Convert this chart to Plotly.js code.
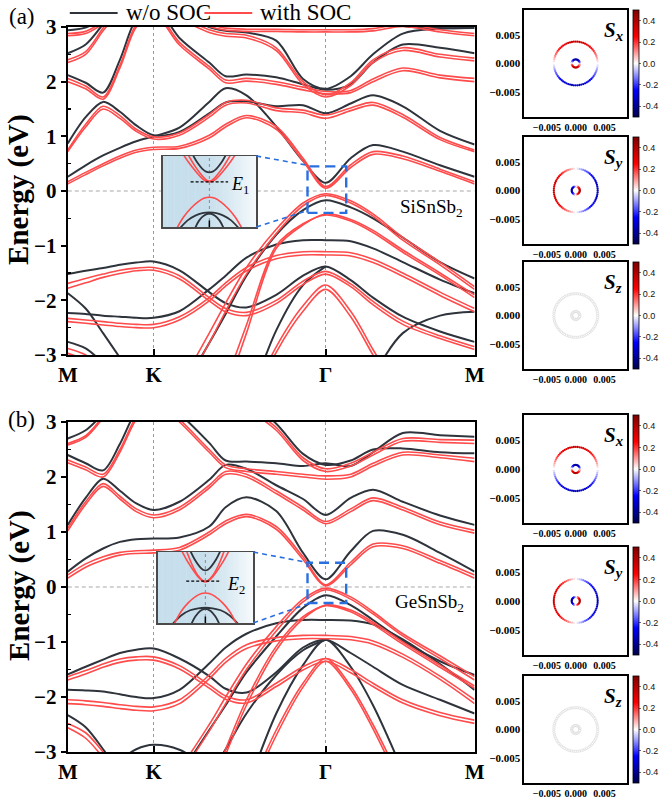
<!DOCTYPE html>
<html><head><meta charset="utf-8">
<script src="https://cdn.plot.ly/plotly-3.0.1.min.js"></script>
<style>html,body{margin:0;padding:0;background:#fff}#plot{width:659px;height:804px}</style>
</head><body><div id="plot"></div>
<script>
const n = null;
// ---------- k-path (M-K-Γ-M) ----------
const kPath = [0, 0.12, 0.237, 0.35, 0.46, 0.577, 0.75, 0.95, 1.06, 1.2, 1.4, 1.58, 1.732, 1.9, 2.05, 2.25, 2.5, 2.732];
const kTickVals = [0, 0.577, 1.732, 2.732];
const kTickText = ['M', 'K', 'Γ', 'M'];
const energyTicks = [-3, -2, -1, 0, 1, 2, 3];
const seriesNames = ['w/o SOC', 'with SOC'];

// ---------- (a) SiSnSb2, w/o SOC ----------
const aB1 = [0.26, 0.47, 0.65, 0.79, 0.91, 1.00, 1.16, 1.63, 1.88, 1.75, 1.18, 0.55, 0.15, 0.60, 0.84, 0.72, 0.47, 0.26];
const aB2 = [0.87, 1.35, 1.63, 1.45, 1.20, 1.02, 1.08, 1.42, 1.62, 1.64, 1.55, 1.57, 1.42, 1.60, 1.75, 1.55, 1.10, 0.85];
const aB3 = [2.12, 1.98, 1.80, 2.40, 3.15, 3.40, 2.80, 2.35, 2.10, 2.13, 2.08, 1.95, 1.85, 1.95, 2.35, 2.68, 2.62, 2.52];
const aB4 = [2.52, 2.68, 3.05, 3.40, n, n, 3.30, 3.00, 2.93, 2.90, 2.75, 2.05, 1.87, 2.10, 2.50, 2.88, 2.97, 2.98];
const aB5 = [2.94, 2.99, 3.15, n, n, n, n, n, n, n, n, n, n, n, 3.20, 3.02, 2.98, 2.98];
const aV1 = [n, n, n, n, n, -4.3, -3.7, -2.78, -2.25, -1.55, -0.80, -0.35, -0.17, -0.30, -0.50, -0.85, -1.30, -1.60];
const aV2 = [-2.23, -2.25, -2.28, -2.30, -2.32, -2.32, -2.20, -1.80, -1.55, -1.22, -0.98, -0.90, -0.90, -0.92, -1.05, -1.30, -1.62, -1.87];
const aV3 = [-1.52, -1.46, -1.41, -1.35, -1.31, -1.29, -1.45, -1.85, -2.05, -2.13, -1.90, -1.55, -1.38, -1.63, -1.95, -2.30, -2.57, -2.76];
const aV4 = [n, n, n, n, n, n, n, n, n, -4.0, -2.55, -1.72, -1.38, n, n, n, n, n];
const aV5 = [-1.87, -2.15, -2.60, -3.05, -3.50, n, n, n, n, n, n, n, n, n, -3.40, -2.60, -2.28, -2.21];
const aV6 = [-2.76, -2.88, -3.15, -3.50, n, n, n, n, n, n, n, n, n, n, n, n, n, n];
// ---------- (a) SiSnSb2, with SOC ----------
const aR1a = [0.17, 0.34, 0.50, 0.64, 0.75, 0.80, 0.82, 1.02, 1.22, 1.38, 1.18, 0.60, 0.08, 0.48, 0.72, 0.64, 0.40, 0.17];
const aR1b = [0.13, 0.30, 0.46, 0.60, 0.71, 0.76, 0.78, 0.97, 1.17, 1.34, 1.13, 0.55, 0.05, 0.43, 0.67, 0.59, 0.36, 0.13];
const aR2a = [0.75, 1.22, 1.55, 1.38, 1.13, 0.99, 1.06, 1.40, 1.62, 1.66, 1.52, 1.48, 1.39, 1.52, 1.62, 1.40, 0.98, 0.75];
const aR2b = [0.72, 1.17, 1.50, 1.33, 1.09, 0.95, 1.02, 1.35, 1.57, 1.61, 1.47, 1.43, 1.33, 1.47, 1.57, 1.35, 0.94, 0.72];
const aR3a = [2.06, 1.92, 1.72, 2.30, 3.05, 3.30, 2.72, 2.28, 2.03, 2.06, 2.00, 1.90, 1.82, 1.84, 2.05, 2.25, 2.12, 2.06];
const aR3b = [2.00, 1.87, 1.68, 2.25, 3.00, 3.25, 2.67, 2.23, 1.98, 2.01, 1.95, 1.85, 1.78, 1.80, 2.00, 2.20, 2.07, 2.00];
const aR4a = [2.40, 2.55, 2.98, 3.35, n, n, 3.20, 2.95, 2.88, 2.85, 2.62, 2.00, 1.76, 1.98, 2.40, 2.62, 2.50, 2.43];
const aR4b = [2.35, 2.50, 2.93, 3.30, n, n, 3.15, 2.90, 2.83, 2.80, 2.57, 1.95, 1.72, 1.93, 2.35, 2.57, 2.45, 2.38];
const aR5a = [2.88, 2.92, 3.10, n, n, n, n, 3.05, 2.98, 2.96, 2.96, 2.95, 2.95, 2.95, 2.97, 3.05, 2.95, 2.88];
const aR5b = [2.84, 2.88, 3.06, n, n, n, n, 3.01, 2.94, 2.92, 2.92, 2.91, 2.91, 2.91, 2.93, 3.01, 2.91, 2.84];
const aRV1a = [n, n, n, n, n, -4.2, -3.55, -2.60, -2.05, -1.40, -0.70, -0.22, -0.05, -0.18, -0.42, -0.85, -1.30, -1.75];
const aRV1b = [n, n, n, n, n, -4.4, -3.72, -2.78, -2.20, -1.52, -0.78, -0.27, -0.08, -0.22, -0.46, -0.90, -1.35, -1.80];
const aRV2a = [n, n, n, n, n, n, n, n, -3.70, -2.60, -1.05, -0.62, -0.42, -0.52, -0.72, -1.08, -1.50, -1.90];
const aRV2b = [n, n, n, n, n, n, n, n, -3.50, -2.45, -1.00, -0.60, -0.44, -0.55, -0.76, -1.12, -1.54, -1.95];
const aRV3a = [-2.33, -2.36, -2.39, -2.42, -2.44, -2.44, -2.30, -1.95, -1.68, -1.40, -1.18, -1.11, -1.11, -1.13, -1.25, -1.50, -1.85, -2.15];
const aRV3b = [-2.39, -2.42, -2.45, -2.48, -2.50, -2.50, -2.36, -2.01, -1.74, -1.46, -1.24, -1.17, -1.17, -1.19, -1.31, -1.56, -1.91, -2.21];
const aRV4a = [-1.69, -1.60, -1.52, -1.45, -1.41, -1.40, -1.55, -1.95, -2.15, -2.22, -2.00, -1.65, -1.47, -1.70, -2.02, -2.38, -2.65, -2.85];
const aRV4b = [-1.78, -1.68, -1.58, -1.51, -1.46, -1.45, -1.61, -2.01, -2.21, -2.28, -2.06, -1.71, -1.52, -1.75, -2.08, -2.44, -2.70, -2.90];
const aRV5a = [n, n, n, n, n, n, n, n, n, -4.0, -2.85, -2.10, -1.72, -2.20, -2.90, -3.80, n, n];
const aRV5b = [n, n, n, n, n, n, n, n, n, -4.1, -2.95, -2.20, -1.80, -2.30, -3.00, -3.90, n, n];
const aRV6a = [-2.88, -3.00, -3.30, n, n, n, n, n, n, n, n, n, n, n, n, n, n, n];
const aRV6b = [-2.97, -3.10, -3.40, n, n, n, n, n, n, n, n, n, n, n, n, n, n, n];

// ---------- (b) GeSnSb2, w/o SOC ----------
const bB1 = [0.28, 0.52, 0.70, 0.82, 0.87, 0.88, 0.90, 1.10, 1.45, 1.63, 1.38, 0.62, 0.14, 0.65, 1.02, 0.95, 0.62, 0.28];
const bB2 = [1.13, 1.62, 1.97, 1.75, 1.52, 1.40, 1.55, 1.95, 2.22, 2.15, 1.85, 1.60, 1.31, 1.62, 1.77, 1.55, 1.30, 1.13];
const bB3 = [2.40, 2.25, 2.12, 2.60, 3.20, 3.50, 3.15, 2.62, 2.30, 2.28, 2.25, 2.20, 2.25, 2.20, 2.45, 2.80, 2.76, 2.73];
const bB4 = [2.70, 2.85, 3.15, 3.50, n, n, n, n, n, 3.40, 2.97, 2.42, 2.22, 2.30, 2.50, 2.52, 2.45, 2.43];
const bV1 = [n, n, n, n, n, -3.9, -3.4, -2.60, -2.15, -1.55, -0.90, -0.38, -0.15, -0.33, -0.60, -0.98, -1.35, -1.60];
const bV2 = [-1.87, -1.88, -1.90, -1.95, -2.00, -2.02, -1.87, -1.39, -1.10, -0.85, -0.66, -0.60, -0.60, -0.61, -0.68, -0.95, -1.40, -1.87];
const bV3 = [-1.59, -1.45, -1.32, -1.20, -1.14, -1.12, -1.30, -1.62, -1.85, -1.92, -1.55, -1.10, -0.96, -1.20, -1.45, -1.78, -2.05, -2.30];
const bV4 = [n, n, n, n, n, n, n, -3.45, -2.95, -2.30, -1.60, -1.15, -0.96, n, n, n, n, n];
const bV5 = [n, n, n, n, n, n, n, n, n, -3.70, -2.30, -1.42, -0.96, -1.45, -2.15, -3.35, n, n];
const bV6 = [-2.33, -2.55, -2.95, -3.40, n, n, n, n, n, n, n, n, n, n, n, n, n, n];
const bV7 = [n, n, n, -3.15, -2.95, -2.87, -2.96, -3.30, n, n, n, n, n, n, n, n, n, n];
// ---------- (b) GeSnSb2, with SOC ----------
const bR1a = [0.22, 0.42, 0.55, 0.63, 0.66, 0.67, 0.72, 1.00, 1.20, 1.32, 1.10, 0.55, 0.04, 0.45, 0.78, 0.75, 0.48, 0.22];
const bR1b = [0.16, 0.36, 0.49, 0.58, 0.61, 0.62, 0.67, 0.95, 1.15, 1.28, 1.05, 0.50, 0.02, 0.40, 0.73, 0.70, 0.43, 0.16];
const bR2a = [1.07, 1.55, 1.88, 1.65, 1.42, 1.31, 1.45, 1.85, 2.10, 2.05, 1.75, 1.45, 1.19, 1.42, 1.62, 1.45, 1.18, 1.03];
const bR2b = [1.02, 1.50, 1.83, 1.60, 1.37, 1.26, 1.40, 1.80, 2.05, 2.00, 1.70, 1.40, 1.15, 1.37, 1.57, 1.40, 1.13, 0.98];
const bR3a = [2.31, 2.18, 2.05, 2.50, 3.10, 3.45, 3.05, 2.50, 2.22, 2.15, 2.10, 2.05, 2.02, 2.05, 2.25, 2.45, 2.40, 2.34];
const bR3b = [2.26, 2.13, 2.00, 2.45, 3.05, 3.40, 3.00, 2.45, 2.17, 2.10, 2.05, 2.00, 1.96, 2.00, 2.20, 2.40, 2.35, 2.28];
const bR4a = [2.61, 2.75, 3.10, 3.45, n, n, n, n, n, 3.30, 2.90, 2.35, 2.15, 2.25, 2.45, 2.70, 2.68, 2.67];
const bR4b = [2.58, 2.72, 3.07, 3.42, n, n, n, n, n, 3.25, 2.85, 2.30, 2.10, 2.20, 2.40, 2.65, 2.63, 2.61];
const bRV1a = [n, n, n, n, n, -3.8, -3.3, -2.50, -2.00, -1.40, -0.72, -0.22, -0.02, -0.18, -0.45, -0.85, -1.25, -1.63];
const bRV1b = [n, n, n, n, n, -3.95, -3.42, -2.62, -2.12, -1.50, -0.80, -0.27, -0.05, -0.22, -0.49, -0.89, -1.30, -1.69];
const bRV2a = [n, n, n, n, n, n, n, -3.80, -3.05, -2.15, -1.15, -0.58, -0.33, -0.42, -0.64, -1.00, -1.42, -1.80];
const bRV2b = [n, n, n, n, n, n, n, -3.70, -2.95, -2.05, -1.08, -0.54, -0.34, -0.45, -0.68, -1.04, -1.46, -1.84];
const bRV3a = [-2.05, -2.07, -2.10, -2.14, -2.17, -2.18, -2.05, -1.60, -1.30, -1.05, -0.92, -0.88, -0.88, -0.90, -0.98, -1.22, -1.62, -2.05];
const bRV3b = [-2.12, -2.14, -2.17, -2.21, -2.24, -2.25, -2.12, -1.67, -1.37, -1.12, -0.98, -0.94, -0.94, -0.96, -1.04, -1.28, -1.68, -2.12];
const bRV4a = [-1.63, -1.52, -1.40, -1.31, -1.27, -1.27, -1.43, -1.78, -1.98, -2.05, -1.75, -1.45, -1.30, -1.50, -1.75, -2.05, -2.28, -2.42];
const bRV4b = [-1.69, -1.58, -1.46, -1.37, -1.33, -1.33, -1.49, -1.84, -2.04, -2.11, -1.81, -1.51, -1.35, -1.56, -1.81, -2.11, -2.34, -2.48];
const bRV5a = [n, n, n, n, n, n, n, n, n, -3.80, -2.60, -1.75, -1.30, -1.80, -2.50, -3.60, n, n];
const bRV5b = [n, n, n, n, n, n, n, n, n, -3.90, -2.70, -1.82, -1.35, -1.86, -2.58, -3.70, n, n];
const bRV6a = [-2.48, -2.65, -3.00, -3.40, n, n, n, n, n, n, n, n, n, n, n, n, n, n];
const bRV6b = [-2.56, -2.75, -3.10, -3.50, n, n, n, n, n, n, n, n, n, n, n, n, n, n];

// ---------- insets (zoom near Γ), u = relative k, v = relative E ----------
const iA_cbK_u = [-0.36, -0.25, -0.15, -0.07, 0, 0.07, 0.15, 0.25, 0.36];
const iA_cbK_v = [1.05, 0.80, 0.64, 0.56, 0.54, 0.56, 0.64, 0.80, 1.05];
const iA_cbR1_u = [-0.56, -0.42, -0.28, -0.15, -0.05, 0.05, 0.17, 0.30, 0.46];
const iA_cbR1_v = [1.05, 0.78, 0.55, 0.36, 0.28, 0.31, 0.47, 0.70, 1.05];
const iA_cbR2_u = [-0.46, -0.30, -0.17, -0.05, 0.05, 0.15, 0.28, 0.42, 0.56];
const iA_cbR2_v = [1.05, 0.70, 0.47, 0.31, 0.28, 0.36, 0.55, 0.78, 1.05];
const iA_vbR_u = [-0.70, -0.55, -0.40, -0.25, -0.12, 0, 0.12, 0.25, 0.40, 0.55, 0.70];
const iA_vbR_v = [-1.05, -0.72, -0.48, -0.30, -0.19, -0.16, -0.19, -0.30, -0.48, -0.72, -1.05];
const iA_vbK1_u = [-0.64, -0.45, -0.30, -0.15, 0, 0.15, 0.30, 0.45, 0.64];
const iA_vbK1_v = [-1.05, -0.80, -0.68, -0.61, -0.59, -0.61, -0.68, -0.80, -1.05];
const iA_vbK2_u = [-0.31, -0.22, -0.12, 0, 0.12, 0.22, 0.31];
const iA_vbK2_v = [-1.05, -0.82, -0.68, -0.62, -0.68, -0.82, -1.05];
const iA_E_u = [-0.40, 0.40];
const iA_E_v = [0.27, 0.27];

const iB_cbK_u = [-0.32, -0.22, -0.12, -0.05, 0, 0.05, 0.12, 0.22, 0.32];
const iB_cbK_v = [1.05, 0.78, 0.59, 0.50, 0.48, 0.50, 0.59, 0.78, 1.05];
const iB_cbR1_u = [-0.50, -0.38, -0.25, -0.13, -0.04, 0.05, 0.15, 0.27, 0.40];
const iB_cbR1_v = [1.05, 0.75, 0.48, 0.27, 0.17, 0.19, 0.33, 0.62, 1.05];
const iB_cbR2_u = [-0.40, -0.27, -0.15, -0.05, 0.04, 0.13, 0.25, 0.38, 0.50];
const iB_cbR2_v = [1.05, 0.62, 0.33, 0.19, 0.17, 0.27, 0.48, 0.75, 1.05];
const iB_vbR_u = [-0.66, -0.50, -0.35, -0.20, -0.08, 0, 0.08, 0.20, 0.35, 0.50, 0.66];
const iB_vbR_v = [-1.05, -0.66, -0.42, -0.25, -0.17, -0.155, -0.17, -0.25, -0.42, -0.66, -1.05];
const iB_vbK1_u = [-0.70, -0.50, -0.32, -0.15, 0, 0.15, 0.32, 0.50, 0.70];
const iB_vbK1_v = [-1.05, -0.78, -0.64, -0.585, -0.57, -0.585, -0.64, -0.78, -1.05];
const iB_vbK2_u = [-0.30, -0.21, -0.11, 0, 0.11, 0.21, 0.30];
const iB_vbK2_v = [-1.05, -0.82, -0.66, -0.60, -0.66, -0.82, -1.05];
const iB_E_u = [-0.40, 0.29];
const iB_E_v = [0.18, 0.18];

// ---------- spin textures: constant-energy contours (kx, ky) and spin components ----------
const outerKx = [0.0038,0.00379,0.00374,0.00367,0.00357,0.00344,0.00329,0.00311,0.00291,0.00269,0.00244,0.00218,0.0019,0.00161,0.0013,0.00098,0.00066,0.00033,
  0,-0.00033,-0.00066,-0.00098,-0.0013,-0.00161,-0.0019,-0.00218,-0.00244,-0.00269,-0.00291,-0.00311,-0.00329,-0.00344,-0.00357,-0.00367,-0.00374,-0.00379,
  -0.0038,-0.00379,-0.00374,-0.00367,-0.00357,-0.00344,-0.00329,-0.00311,-0.00291,-0.00269,-0.00244,-0.00218,-0.0019,-0.00161,-0.0013,-0.00098,-0.00066,-0.00033,
  0,0.00033,0.00066,0.00098,0.0013,0.00161,0.0019,0.00218,0.00244,0.00269,0.00291,0.00311,0.00329,0.00344,0.00357,0.00367,0.00374,0.00379];
const outerKy = [0,0.00033,0.00066,0.00098,0.0013,0.00161,0.0019,0.00218,0.00244,0.00269,0.00291,0.00311,0.00329,0.00344,0.00357,0.00367,0.00374,0.00379,
  0.0038,0.00379,0.00374,0.00367,0.00357,0.00344,0.00329,0.00311,0.00291,0.00269,0.00244,0.00218,0.0019,0.00161,0.0013,0.00098,0.00066,0.00033,
  0,-0.00033,-0.00066,-0.00098,-0.0013,-0.00161,-0.0019,-0.00218,-0.00244,-0.00269,-0.00291,-0.00311,-0.00329,-0.00344,-0.00357,-0.00367,-0.00374,-0.00379,
  -0.0038,-0.00379,-0.00374,-0.00367,-0.00357,-0.00344,-0.00329,-0.00311,-0.00291,-0.00269,-0.00244,-0.00218,-0.0019,-0.00161,-0.0013,-0.00098,-0.00066,-0.00033];
const innerKx = [0.0007,0.00068,0.00061,0.00049,0.00035,0.00018, 0,-0.00018,-0.00035,-0.00049,-0.00061,-0.00068,
  -0.0007,-0.00068,-0.00061,-0.00049,-0.00035,-0.00018, 0,0.00018,0.00035,0.00049,0.00061,0.00068];
const innerKy = [0,0.00018,0.00035,0.00049,0.00061,0.00068, 0.0007,0.00068,0.00061,0.00049,0.00035,0.00018,
  0,-0.00018,-0.00035,-0.00049,-0.00061,-0.00068, -0.0007,-0.00068,-0.00061,-0.00049,-0.00035,-0.00018];
const SxOuter = [0,0.03,0.061,0.091,0.12,0.148,0.175,0.201,0.225,0.247,0.268,0.287,0.303,0.317,0.329,0.338,0.345,0.349,
  0.35,0.349,0.345,0.338,0.329,0.317,0.303,0.287,0.268,0.247,0.225,0.201,0.175,0.148,0.12,0.091,0.061,0.03,
  0,-0.03,-0.061,-0.091,-0.12,-0.148,-0.175,-0.201,-0.225,-0.247,-0.268,-0.287,-0.303,-0.317,-0.329,-0.338,-0.345,-0.349,
  -0.35,-0.349,-0.345,-0.338,-0.329,-0.317,-0.303,-0.287,-0.268,-0.247,-0.225,-0.201,-0.175,-0.148,-0.12,-0.091,-0.061,-0.03];
const SyOuter = [-0.35,-0.349,-0.345,-0.338,-0.329,-0.317,-0.303,-0.287,-0.268,-0.247,-0.225,-0.201,-0.175,-0.148,-0.12,-0.091,-0.061,-0.03,
  0,0.03,0.061,0.091,0.12,0.148,0.175,0.201,0.225,0.247,0.268,0.287,0.303,0.317,0.329,0.338,0.345,0.349,
  0.35,0.349,0.345,0.338,0.329,0.317,0.303,0.287,0.268,0.247,0.225,0.201,0.175,0.148,0.12,0.091,0.061,0.03,
  0,-0.03,-0.061,-0.091,-0.12,-0.148,-0.175,-0.201,-0.225,-0.247,-0.268,-0.287,-0.303,-0.317,-0.329,-0.338,-0.345,-0.349];
const SzOuter = [0,0,0,0,0,0,0,0,0,0,0,0,0,0,0,0,0,0,0,0,0,0,0,0,0,0,0,0,0,0,0,0,0,0,0,0,
  0,0,0,0,0,0,0,0,0,0,0,0,0,0,0,0,0,0,0,0,0,0,0,0,0,0,0,0,0,0,0,0,0,0,0,0];
const SxInner = [0,-0.104,-0.2,-0.283,-0.346,-0.386, -0.4,-0.386,-0.346,-0.283,-0.2,-0.104,
  0,0.104,0.2,0.283,0.346,0.386, 0.4,0.386,0.346,0.283,0.2,0.104];
const SyInner = [0.4,0.386,0.346,0.283,0.2,0.104, 0,-0.104,-0.2,-0.283,-0.346,-0.386,
  -0.4,-0.386,-0.346,-0.283,-0.2,-0.104, 0,0.104,0.2,0.283,0.346,0.386];
const SzInner = [0,0,0,0,0,0,0,0,0,0,0,0,0,0,0,0,0,0,0,0,0,0,0,0];
const spinTicks = [-0.005, 0, 0.005];
const spinTickText = ['\u22120.005', '0.000', '0.005'];
const cbTicks = [-0.4, -0.2, 0, 0.2, 0.4];
const cbTickText = ['-0.4', '-0.2', '0.0', '0.2', '0.4'];

// ---------- drawing ----------
const W = 659, H = 804;
const px = x => x / W, py = y => 1 - y / H;
const SERIF = '"Liberation Serif", "Times New Roman", serif';
const SANS = '"Liberation Sans", Arial, sans-serif';
const BLK = '#2f343c', RED = '#ff4b4b', BLUE = '#2a6fe0';
const seismic = [[0, '#00004c'], [0.25, '#0000ff'], [0.5, '#ffffff'], [0.75, '#ff0000'], [1, '#7f0000']];

const traces = [];
function bands(list, color, width, xa, ya, name) {
  list.forEach(ys => traces.push({
    type: 'scatter', mode: 'lines', x: kPath, y: ys, xaxis: xa, yaxis: ya,
    line: {color: color, width: width, shape: 'spline', smoothing: 0.9},
    connectgaps: false, hoverinfo: 'skip', name: name, showlegend: false
  }));
}
bands([aB1, aB2, aB3, aB4, aB5, aV1, aV2, aV3, aV4, aV5, aV6], BLK, 2, 'x', 'y', seriesNames[0]);
bands([aR1a, aR1b, aR2a, aR2b, aR3a, aR3b, aR4a, aR4b, aR5a, aR5b, aRV1a, aRV1b, aRV2a, aRV2b,
       aRV3a, aRV3b, aRV4a, aRV4b, aRV5a, aRV5b, aRV6a, aRV6b], RED, 1.6, 'x', 'y', seriesNames[1]);
bands([bB1, bB2, bB3, bB4, bV1, bV2, bV3, bV4, bV5, bV6, bV7], BLK, 2, 'x2', 'y2', seriesNames[0]);
bands([bR1a, bR1b, bR2a, bR2b, bR3a, bR3b, bR4a, bR4b, bRV1a, bRV1b, bRV2a, bRV2b,
       bRV3a, bRV3b, bRV4a, bRV4b, bRV5a, bRV5b, bRV6a, bRV6b], RED, 1.6, 'x2', 'y2', seriesNames[1]);

function insetLine(u, v, color, width, xa, ya, dash) {
  traces.push({type: 'scatter', mode: 'lines', x: u, y: v, xaxis: xa, yaxis: ya,
    line: {color: color, width: width, shape: dash ? 'linear' : 'spline', smoothing: 1, dash: dash || 'solid'},
    hoverinfo: 'skip', showlegend: false, cliponaxis: true});
}
insetLine(iA_vbK1_u, iA_vbK1_v, BLK, 1.8, 'x3', 'y3');
insetLine(iA_vbK2_u, iA_vbK2_v, BLK, 1.8, 'x3', 'y3');
insetLine(iA_cbK_u, iA_cbK_v, BLK, 1.8, 'x3', 'y3');
insetLine(iA_cbR1_u, iA_cbR1_v, RED, 1.6, 'x3', 'y3');
insetLine(iA_cbR2_u, iA_cbR2_v, RED, 1.6, 'x3', 'y3');
insetLine(iA_vbR_u, iA_vbR_v, RED, 1.6, 'x3', 'y3');
insetLine(iA_E_u, iA_E_v, '#000', 1.1, 'x3', 'y3', '3px,2px');
insetLine(iB_vbK1_u, iB_vbK1_v, BLK, 1.8, 'x4', 'y4');
insetLine(iB_vbK2_u, iB_vbK2_v, BLK, 1.8, 'x4', 'y4');
insetLine(iB_cbK_u, iB_cbK_v, BLK, 1.8, 'x4', 'y4');
insetLine(iB_cbR1_u, iB_cbR1_v, RED, 1.6, 'x4', 'y4');
insetLine(iB_cbR2_u, iB_cbR2_v, RED, 1.6, 'x4', 'y4');
insetLine(iB_vbR_u, iB_vbR_v, RED, 1.6, 'x4', 'y4');
insetLine(iB_E_u, iB_E_v, '#000', 1.1, 'x4', 'y4', '3px,2px');

// spin texture panels: [box left, right, top, bottom] in px
const spinBoxes = [[526, 629, 10, 117], [526, 629, 137, 244], [526, 629, 262, 369],
                   [526, 629, 415, 523], [526, 629, 547, 655], [526, 629, 676, 783]];
const spinSets = [[SxOuter, SxInner, 'x'], [SyOuter, SyInner, 'y'], [SzOuter, SzInner, 'z'],
                  [SxOuter, SxInner, 'x'], [SyOuter, SyInner, 'y'], [SzOuter, SzInner, 'z']];
spinBoxes.forEach((b, i) => {
  const ax = i + 5;
  const xa = 'x' + ax, ya = 'y' + ax;
  const isZ = spinSets[i][2] === 'z';
  const mline = isZ ? {color: '#cfcfcf', width: 0.5} : {width: 0};
  traces.push({type: 'scatter', mode: 'markers', x: outerKx, y: outerKy, xaxis: xa, yaxis: ya,
    hoverinfo: 'skip', showlegend: false,
    marker: {size: 2.3, color: spinSets[i][0], colorscale: seismic, cmin: -0.5, cmax: 0.5, line: mline,
      showscale: true,
      colorbar: {x: px(635), xanchor: 'left', y: (py(b[3]) + py(b[2])) / 2, yanchor: 'middle',
        len: (b[3] - b[2]) / H, lenmode: 'fraction', thickness: 6, thicknessmode: 'pixels',
        xpad: 0, ypad: 0, outlinewidth: 0.8, outlinecolor: '#000', borderwidth: 0,
        tickvals: cbTicks, ticktext: cbTickText, ticks: 'outside', ticklen: 2, tickwidth: 0.8,
        tickfont: {family: SANS, size: 9, color: '#111'}}}});
  traces.push({type: 'scatter', mode: 'markers', x: innerKx, y: innerKy, xaxis: xa, yaxis: ya,
    hoverinfo: 'skip', showlegend: false,
    marker: {size: 2.3, color: spinSets[i][1], colorscale: seismic, cmin: -0.5, cmax: 0.5, line: mline, showscale: false}});
});

// ---------- layout ----------
const mainX = {range: [0, 2.732], tickmode: 'array', tickvals: kTickVals, ticktext: kTickText,
  showgrid: true, gridcolor: '#9a9a9a', griddash: 'dot', gridwidth: 1,
  ticks: 'inside', ticklen: 6, tickwidth: 2, tickcolor: '#000',
  showline: true, mirror: true, linecolor: '#000', linewidth: 2, zeroline: false,
  tickfont: {family: SERIF, size: 21, color: '#000', weight: 'bold'}, fixedrange: true};
const mainY = {range: [-3, 3], tickmode: 'array', tickvals: energyTicks,
  ticks: 'outside', ticklen: 5, tickwidth: 2, tickcolor: '#000',
  minor: {tickmode: 'array', tickvals: [-2.5, -1.5, -0.5, 0.5, 1.5, 2.5], ticks: 'inside', ticklen: 3, tickwidth: 1.5, tickcolor: '#000', showgrid: false},
  showline: true, mirror: true, linecolor: '#000', linewidth: 2, zeroline: false, showgrid: false,
  tickfont: {family: SERIF, size: 21, color: '#000', weight: 'bold'}, fixedrange: true};
const insetAx = {range: [-1, 1], showline: true, mirror: true, linecolor: '#4a4a4a', linewidth: 1.5,
  showgrid: false, zeroline: false, showticklabels: false, ticks: '', fixedrange: true};

const layout = {
  width: W, height: H, margin: {l: 0, r: 0, t: 0, b: 0},
  paper_bgcolor: '#fff', plot_bgcolor: '#fff',
  font: {family: SERIF, color: '#000'},
  showlegend: false,
  xaxis: Object.assign({}, mainX, {domain: [px(68), px(476)], anchor: 'y'}),
  yaxis: Object.assign({}, mainY, {domain: [py(355), py(27)], anchor: 'x'}),
  xaxis2: Object.assign({}, mainX, {domain: [px(68), px(476)], anchor: 'y2'}),
  yaxis2: Object.assign({}, mainY, {domain: [py(752), py(422)], anchor: 'x2'}),
  xaxis3: Object.assign({}, insetAx, {domain: [px(163), px(257)], anchor: 'y3'}),
  yaxis3: Object.assign({}, insetAx, {domain: [py(227), py(156)], anchor: 'x3'}),
  xaxis4: Object.assign({}, insetAx, {domain: [px(158), px(254)], anchor: 'y4'}),
  yaxis4: Object.assign({}, insetAx, {domain: [py(623), py(552)], anchor: 'x4'}),
  shapes: [], annotations: []
};
spinBoxes.forEach((b, i) => {
  const ax = i + 5;
  const common = {showline: true, mirror: true, linecolor: '#000', linewidth: 2, showgrid: false, zeroline: false,
    ticks: '', tickmode: 'array', tickvals: spinTicks, ticktext: spinTickText, tickangle: 0,
    tickfont: {family: SERIF, size: 10, color: '#000', weight: 'bold'}, fixedrange: true};
  layout['xaxis' + ax] = Object.assign({}, common, {domain: [px(b[0]), px(b[1])], anchor: 'y' + ax, range: [-0.0089, 0.0089]});
  layout['yaxis' + ax] = Object.assign({}, common, {domain: [py(b[3]), py(b[2])], anchor: 'x' + ax, range: [-0.0093, 0.0093],
    tickfont: {family: SERIF, size: 11, color: '#000', weight: 'bold'}});
  const comp = spinSets[i][2];
  layout.annotations.push({xref: 'paper', yref: 'paper', x: px(615), y: py(b[2] + 21), xanchor: 'center', yanchor: 'middle',
    text: '<b><i>S</i></b><sub><b><i>' + comp + '</i></b></sub>', showarrow: false,
    font: {family: SERIF, size: 21, color: '#000'}});
});

// legend (drawn as line samples + labels at the top)
[[70, 118, 124, BLK, seriesNames[0]], [205, 253, 259, RED, seriesNames[1]]].forEach(l => {
  layout.shapes.push({type: 'line', xref: 'paper', yref: 'paper', x0: px(l[0]), x1: px(l[1]), y0: py(13), y1: py(13),
    line: {color: l[3], width: 2}});
  layout.annotations.push({xref: 'paper', yref: 'paper', x: px(l[2]), y: py(13), text: l[4], showarrow: false,
    xanchor: 'left', yanchor: 'middle', font: {family: SERIF, size: 23, color: '#000'}});
});

// zero-energy dashed lines and zoom boxes
[['x', 'y', 0.45, -0.40], ['x2', 'y2', 0.44, -0.29]].forEach(p => {
  layout.shapes.push({type: 'line', xref: p[0], yref: p[1], x0: 0, x1: 2.732, y0: 0, y1: 0,
    line: {color: '#a8a8a8', width: 1, dash: '4px,3px'}, layer: 'below'});
  layout.shapes.push({type: 'rect', xref: p[0], yref: p[1], x0: 1.61, x1: 1.87, y0: p[3], y1: p[2],
    line: {color: BLUE, width: 2.4, dash: '10px,6px'}, layer: 'above'});
});
// connector lines between zoom boxes and insets
[[257, 156, 307, 165], [257, 227, 307, 211], [254, 552, 311, 563], [254, 623, 311, 603]].forEach(c => {
  layout.shapes.push({type: 'line', xref: 'paper', yref: 'paper', x0: px(c[0]), y0: py(c[1]), x1: px(c[2]), y1: py(c[3]),
    line: {color: BLUE, width: 1.6, dash: '5px,4px'}, layer: 'above'});
});
// inset backgrounds (light-blue gradient), centre dotted line and Γ tick
function gradColor(t) {
  const a = [199, 223, 236], b = [247, 250, 252];
  let s = t < 0.45 ? 0 : (t - 0.45) / 0.55;
  s = Math.pow(s, 1.3);
  return 'rgb(' + a.map((v, j) => Math.round(v + (b[j] - v) * s)).join(',') + ')';
}
[['x3', 'y3'], ['x4', 'y4']].forEach(p => {
  const N = 40;
  for (let i = 0; i < N; i++) {
    layout.shapes.push({type: 'rect', xref: p[0], yref: p[1], x0: -1 + 2 * i / N, x1: -1 + 2 * (i + 1) / N + 0.01,
      y0: -1, y1: 1, fillcolor: gradColor((i + 0.5) / N), line: {width: 0}, layer: 'below'});
  }
  layout.shapes.push({type: 'line', xref: p[0], yref: p[1], x0: 0, x1: 0, y0: -1, y1: 1,
    line: {color: '#8a8a8a', width: 1, dash: 'dot'}, layer: 'below'});
  layout.shapes.push({type: 'line', xref: p[0], yref: p[1], x0: 0, x1: 0, y0: -1, y1: -0.82,
    line: {color: '#000', width: 1.5}, layer: 'above'});
});

// text annotations
layout.annotations.push(
  {xref: 'paper', yref: 'paper', x: px(22), y: py(16), text: '(a)', showarrow: false, xanchor: 'center', yanchor: 'middle',
    font: {family: SERIF, size: 23, color: '#000'}},
  {xref: 'paper', yref: 'paper', x: px(22), y: py(420), text: '(b)', showarrow: false, xanchor: 'center', yanchor: 'middle',
    font: {family: SERIF, size: 23, color: '#000'}},
  {xref: 'paper', yref: 'paper', x: px(19), y: py(189), text: 'Energy (eV)', textangle: -90, showarrow: false,
    xanchor: 'center', yanchor: 'middle', font: {family: SERIF, size: 29, color: '#000', weight: 'bold'}},
  {xref: 'paper', yref: 'paper', x: px(19), y: py(585), text: 'Energy (eV)', textangle: -90, showarrow: false,
    xanchor: 'center', yanchor: 'middle', font: {family: SERIF, size: 29, color: '#000', weight: 'bold'}},
  {xref: 'paper', yref: 'paper', x: px(433), y: py(208), text: 'SiSnSb<sub>2</sub>', showarrow: false,
    xanchor: 'center', yanchor: 'middle', font: {family: SERIF, size: 19, color: '#000'}},
  {xref: 'paper', yref: 'paper', x: px(431), y: py(603), text: 'GeSnSb<sub>2</sub>', showarrow: false,
    xanchor: 'center', yanchor: 'middle', font: {family: SERIF, size: 19, color: '#000'}},
  {xref: 'x3', yref: 'y3', x: 0.42, y: 0.16, text: '<i>E</i><sub>1</sub>', showarrow: false,
    xanchor: 'left', yanchor: 'middle', font: {family: SERIF, size: 18, color: '#000'}},
  {xref: 'x4', yref: 'y4', x: 0.40, y: 0.07, text: '<i>E</i><sub>2</sub>', showarrow: false,
    xanchor: 'left', yanchor: 'middle', font: {family: SERIF, size: 18, color: '#000'}}
);

Plotly.newPlot('plot', traces, layout, {displayModeBar: false, staticPlot: true});
</script></body></html>
